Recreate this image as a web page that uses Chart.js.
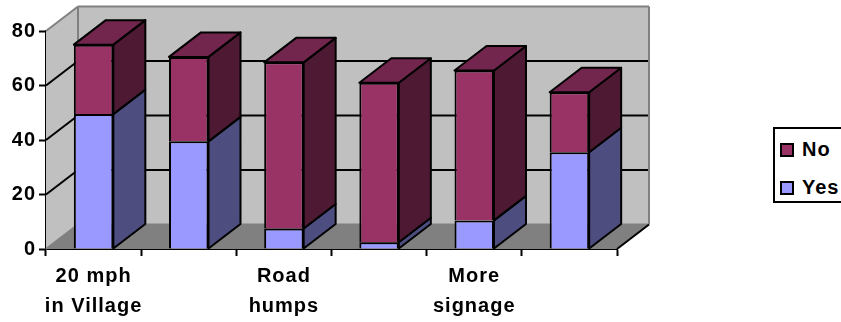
<!DOCTYPE html>
<html>
<head>
<meta charset="utf-8">
<title>Traffic measures</title>
<script src="https://cdn.jsdelivr.net/npm/chart.js@4/dist/chart.umd.min.js"></script>
<style>
  html, body { margin: 0; padding: 0; background: #fff; overflow: hidden; }
  #wrap { position: relative; width: 841px; height: 322px; overflow: hidden; }
  canvas { display: block; }
  .legend {
    position: absolute; left: 773px; top: 127px; width: 80px; height: 72px;
    border: 2px solid #000; background: #fff;
    font: bold 20px "Liberation Sans", Arial, sans-serif; letter-spacing: 1px;
  }
  .legend__item { position: absolute; left: 5px; height: 20px; line-height: 20px; white-space: nowrap; }
  .legend__item i {
    display: inline-block; box-sizing: border-box; width: 14px; height: 14px;
    border: 2px solid #000; margin-right: 8px; vertical-align: -1px;
  }
</style>
</head>
<body>
<div id="wrap">
  <canvas id="chart" width="841" height="322"></canvas>
  <div class="legend" id="legend"></div>
</div>
<script>
const CATEGORIES = [[`20 mph`, `in Village`], ``, [`Road`, `humps`], ``, [`More`, `signage`], ``];
const YES_VALUES = [49.5, 39.5, 7.5, 2.5, 10.5, 35.5];
const NO_VALUES = [25.5, 31, 61, 58.5, 55, 22];
const Y_TICKS = [0, 20, 40, 60, 80];

const FONT_FAMILY = `"Liberation Sans", Arial, sans-serif`;
const DEPTH_X = 32;
const DEPTH_Y = 24.5;
const BAR_DEPTH_X = 32;
const BAR_DEPTH_Y = 24.5;

const polygon = (ctx, points, fill, stroke, lineWidth) => {
  ctx.beginPath();
  points.forEach(([x, y], i) => (i ? ctx.lineTo(x, y) : ctx.moveTo(x, y)));
  ctx.closePath();
  if (fill) {
    ctx.fillStyle = fill;
    ctx.fill();
  }
  if (stroke) {
    ctx.strokeStyle = stroke;
    ctx.lineWidth = lineWidth;
    ctx.stroke();
  }
};

const line = (ctx, x1, y1, x2, y2, color, lineWidth) => {
  ctx.beginPath();
  ctx.moveTo(x1, y1);
  ctx.lineTo(x2, y2);
  ctx.strokeStyle = color;
  ctx.lineWidth = lineWidth;
  ctx.stroke();
};

// the walls and floor of the box behind the bars
const wallsPlugin = {
  id: `walls`,
  beforeDraw(chart) {
    chart.ctx.letterSpacing = `1px`;
  },
  beforeDatasetsDraw(chart) {
    const {ctx, chartArea: {left, right}, scales: {y}} = chart;
    const bottom = y.getPixelForValue(0);
    const top = y.getPixelForValue(80);
    const backLeft = left + DEPTH_X;
    const backRight = right + DEPTH_X;
    const backBottom = bottom - DEPTH_Y;
    const backTop = top - DEPTH_Y;

    ctx.save();
    ctx.lineJoin = `round`;
    polygon(ctx, [[backLeft, backTop], [backRight, backTop], [backRight, backBottom], [backLeft, backBottom]], `#c0c0c0`);
    polygon(ctx, [[left, top], [backLeft, backTop], [backLeft, backBottom], [left, bottom]], `#c0c0c0`);
    polygon(ctx, [[left, bottom], [right, bottom], [backRight, backBottom], [backLeft, backBottom]], `#808080`);

    Y_TICKS.slice(1, -1).forEach((tick) => {
      const tickY = y.getPixelForValue(tick);
      line(ctx, left, tickY, backLeft, tickY - DEPTH_Y, `#000`, 2);
      line(ctx, backLeft, tickY - DEPTH_Y, backRight, tickY - DEPTH_Y, `#000`, 2);
    });

    line(ctx, left, top, backLeft, backTop, `#808080`, 2);
    line(ctx, backLeft, backTop, backRight, backTop, `#808080`, 2);
    line(ctx, backRight, backTop, backRight, backBottom, `#808080`, 2);
    line(ctx, backLeft, backTop, backLeft, backBottom, `#808080`, 2);
    line(ctx, backLeft, backBottom, backRight, backBottom, `#808080`, 2);
    line(ctx, left, bottom, backLeft, backBottom, `#808080`, 2);
    line(ctx, right, bottom, backRight, backBottom, `#000`, 2);

    // bar sides and caps, the fronts are left to the bar elements
    chart.data.datasets.forEach((dataset, datasetIndex) => {
      chart.getDatasetMeta(datasetIndex).data.forEach((bar) => {
        const {x, y: barTop, base, width} = bar.getProps([`x`, `y`, `base`, `width`]);
        const edge = x + width / 2;
        polygon(ctx, [
          [edge, barTop], [edge + BAR_DEPTH_X, barTop - BAR_DEPTH_Y],
          [edge + BAR_DEPTH_X, base - BAR_DEPTH_Y], [edge, base],
        ], dataset.sideColor, `#000`, 2);

        if (datasetIndex === chart.data.datasets.length - 1) {
          polygon(ctx, [
            [edge - width, barTop], [edge - width + BAR_DEPTH_X, barTop - BAR_DEPTH_Y],
            [edge + BAR_DEPTH_X, barTop - BAR_DEPTH_Y], [edge, barTop],
          ], dataset.capColor, `#000`, 2);
        }
      });
    });
    ctx.restore();
  },
};

const chart = new Chart(document.getElementById(`chart`).getContext(`2d`), {
  type: `bar`,
  plugins: [wallsPlugin],
  data: {
    labels: CATEGORIES,
    datasets: [
      {
        label: `Yes`,
        data: YES_VALUES,
        backgroundColor: `#9999ff`,
        sideColor: `#4d4d80`,
        capColor: `#7373bf`,
        borderColor: `#000`,
        borderWidth: 2,
      },
      {
        label: `No`,
        data: NO_VALUES,
        backgroundColor: `#993366`,
        sideColor: `#4d1933`,
        capColor: `#73264d`,
        borderColor: `#000`,
        borderWidth: 2,
      },
    ],
  },
  options: {
    responsive: false,
    animation: false,
    layout: {padding: {top: 31, right: 224, left: 0, bottom: 0}},
    plugins: {legend: {display: false}, tooltip: {enabled: false}},
    datasets: {bar: {barPercentage: 0.415, categoryPercentage: 1}},
    scales: {
      x: {
        stacked: true,
        afterFit: (scale) => {
          scale.height = 73;
        },
        border: {color: `#000`, width: 2},
        grid: {drawOnChartArea: false, tickLength: 7, tickColor: `#000`, tickWidth: 2},
        ticks: {
          color: `#000`,
          padding: 5,
          maxRotation: 0,
          autoSkip: false,
          font: {family: FONT_FAMILY, size: 20, weight: `bold`, lineHeight: 1.5},
        },
      },
      y: {
        stacked: true,
        min: 0,
        max: 80,
        afterFit: (scale) => {
          scale.width = 46;
        },
        border: {color: `#000`, width: 2},
        grid: {drawOnChartArea: false, tickLength: 7, tickColor: `#000`, tickWidth: 2},
        ticks: {
          color: `#000`,
          padding: 3,
          stepSize: 20,
          font: {family: FONT_FAMILY, size: 20, weight: `bold`},
        },
      },
    },
  },
});

// legend lists the stack from the top down
const legendElement = document.getElementById(`legend`);
chart.data.datasets.slice().reverse().forEach((dataset, i) => {
  const item = document.createElement(`div`);
  item.className = `legend__item`;
  item.style.top = `${10 + i * 38}px`;
  item.innerHTML = `<i style="background:${dataset.backgroundColor}"></i>${dataset.label}`;
  legendElement.appendChild(item);
});
</script>
</body>
</html>
